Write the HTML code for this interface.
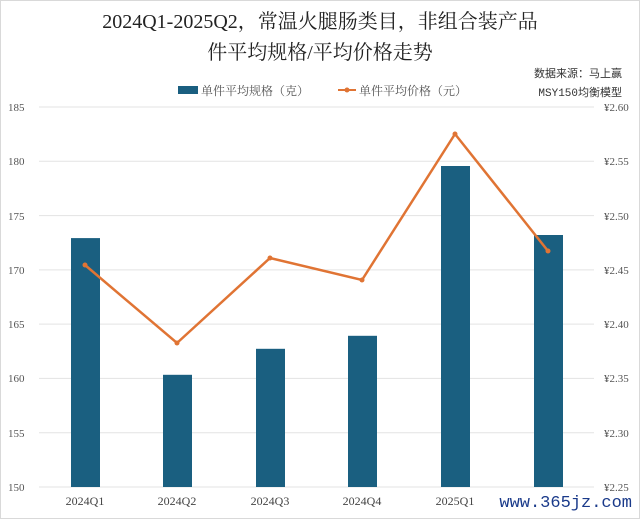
<!DOCTYPE html>
<html><head><meta charset="utf-8"><style>
body{margin:0;background:#fff}
svg{display:block}
</style></head><body>
<svg width="640" height="519" viewBox="0 0 640 519" xmlns="http://www.w3.org/2000/svg">
<rect x="0.5" y="0.5" width="639" height="518" fill="#fff" stroke="#d9d9d9"/>
<g font-family="'Liberation Serif','Noto Serif CJK SC',serif" fill="#222" text-anchor="middle">
<text x="320" y="28" font-size="20">2024Q1-2025Q2，常温火腿肠类目，非组合装产品</text>
<text x="320" y="59" font-size="20">件平均规格/平均价格走势</text>
</g>
<g font-family="'Liberation Mono','Noto Sans CJK SC',monospace" font-size="11" fill="#333" text-anchor="end">
<text x="622" y="77">数据来源：马上赢</text>
<text x="622" y="96">MSY150均衡模型</text>
</g>
<g font-family="'Liberation Serif','Noto Serif CJK SC',serif" font-size="12" fill="#555">
<rect x="178" y="86" width="20" height="8" fill="#1a5f80"/>
<text x="201" y="95">单件平均规格（克）</text>
<line x1="338" y1="90" x2="356" y2="90" stroke="#e07434" stroke-width="2"/>
<circle cx="347" cy="90" r="2.5" fill="#e07434"/>
<text x="359" y="95">单件平均价格（元）</text>
</g>
<g stroke="#e3e3e3" stroke-width="1">
<line x1="39" y1="107" x2="594" y2="107"/>
<line x1="39" y1="161.3" x2="594" y2="161.3"/>
<line x1="39" y1="215.6" x2="594" y2="215.6"/>
<line x1="39" y1="269.9" x2="594" y2="269.9"/>
<line x1="39" y1="324.1" x2="594" y2="324.1"/>
<line x1="39" y1="378.4" x2="594" y2="378.4"/>
<line x1="39" y1="432.7" x2="594" y2="432.7"/>
<line x1="39" y1="487" x2="594" y2="487"/>
</g>
<g font-family="'Liberation Serif',serif" font-size="11" fill="#555" text-anchor="start">
<text x="8" y="111">185</text><text x="8" y="165">180</text><text x="8" y="220">175</text><text x="8" y="274">170</text>
<text x="8" y="328">165</text><text x="8" y="382">160</text><text x="8" y="437">155</text><text x="8" y="491">150</text>
<text x="604" y="111">¥2.60</text><text x="604" y="165">¥2.55</text><text x="604" y="220">¥2.50</text><text x="604" y="274">¥2.45</text>
<text x="604" y="328">¥2.40</text><text x="604" y="382">¥2.35</text><text x="604" y="437">¥2.30</text><text x="604" y="491">¥2.25</text>
</g>
<g fill="#1a5f80">
<rect x="71" y="238.1" width="29" height="248.9"/>
<rect x="163" y="374.8" width="29" height="112.2"/>
<rect x="256" y="348.8" width="29" height="138.2"/>
<rect x="348" y="335.8" width="29" height="151.2"/>
<rect x="441" y="166" width="29" height="321"/>
<rect x="534" y="235" width="29" height="252"/>
</g>
<polyline points="85,265 177,343 270,258 362,280 455,134 548,251" fill="none" stroke="#e07434" stroke-width="2.5"/>
<g fill="#e07434">
<circle cx="85" cy="265" r="2.5"/><circle cx="177" cy="343" r="2.5"/><circle cx="270" cy="258" r="2.5"/>
<circle cx="362" cy="280" r="2.5"/><circle cx="455" cy="134" r="2.5"/><circle cx="548" cy="251" r="2.5"/>
</g>
<g font-family="'Liberation Serif',serif" font-size="12" fill="#444" text-anchor="middle">
<text x="85" y="505">2024Q1</text><text x="177" y="505">2024Q2</text><text x="270" y="505">2024Q3</text>
<text x="362" y="505">2024Q4</text><text x="455" y="505">2025Q1</text>
</g>
<rect x="510" y="491" width="126" height="22" fill="#fff"/>
<text x="632" y="507" text-anchor="end" font-family="'Liberation Mono',monospace" font-size="17" fill="#1a3a8a">www.365jz.com</text>
</svg>
</body></html>
